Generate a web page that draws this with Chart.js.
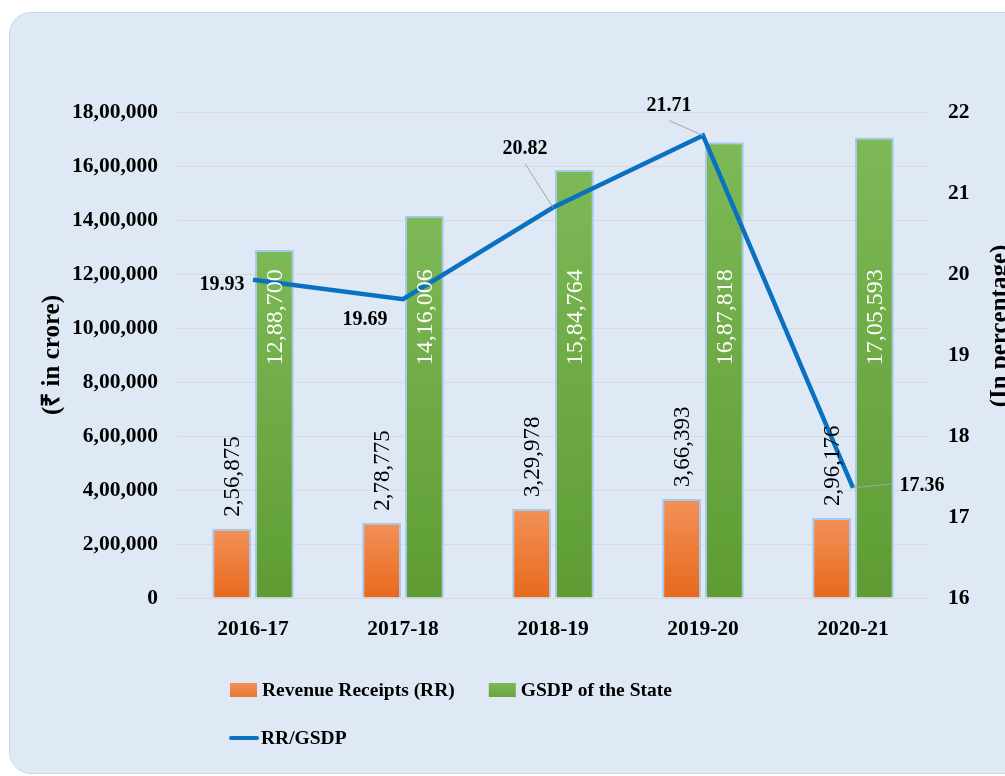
<!DOCTYPE html>
<html>
<head>
<meta charset="utf-8">
<script src="https://cdn.jsdelivr.net/npm/chart.js@4.4.1/dist/chart.umd.min.js"></script>
<style>
  html, body { margin: 0; padding: 0; background: #ffffff; }
  #wrap { position: relative; width: 1005px; height: 776px; overflow: hidden; }
  #panel { position: absolute; left: 9px; top: 12px; width: 1030px; height: 760px;
           border-radius: 22px; background: #dee9f5; border: 1px solid #c6d7ee; }
  canvas { position: absolute; left: 0; top: 0; }
</style>
</head>
<body>
<div id="wrap">
  <div id="panel"></div>
  <canvas id="c" width="1005" height="776"></canvas>
</div>
<script>
// ---- data ----
const categories = ['2016-17', '2017-18', '2018-19', '2019-20', '2020-21'];
const revenueReceipts = [256875, 278775, 329978, 366393, 296176];
const gsdp = [1288700, 1416006, 1584764, 1687818, 1705593];
const rrToGsdp = [19.93, 19.69, 20.82, 21.71, 17.36];
const seriesNames = ['Revenue Receipts (RR)', 'GSDP of the State', 'RR/GSDP'];
const leftAxisTitle = '(₹ in crore)';
const rightAxisTitle = '(In percentage)';

// ---- helpers ----
const SERIF = "'Liberation Serif', 'Times New Roman', serif";
function inr(n) {
  const s = Math.round(n).toString();
  if (s.length <= 3) return s;
  const last3 = s.slice(-3);
  const rest = s.slice(0, -3).replace(/\B(?=(\d{2})+(?!\d))/g, ',');
  return rest + ',' + last3;
}
function barGradient(top, bottom) {
  return function (ctx) {
    const chart = ctx.chart;
    const area = chart.chartArea;
    if (!area || ctx.type !== 'data') return top;
    const ys = chart.scales.y;
    const y0 = ys.getPixelForValue(ctx.raw);
    const y1 = ys.getPixelForValue(0);
    const g = chart.ctx.createLinearGradient(0, y0, 0, y1);
    g.addColorStop(0, top);
    g.addColorStop(1, bottom);
    return g;
  };
}

// label offsets for the ratio line labels (dx, dy from point, and whether leader line)
const lineLabelOffsets = [
  { dx: -31, dy: 5, leader: false },
  { dx: -38, dy: 21, leader: false },
  { dx: -28, dy: -59, leader: true },
  { dx: -34, dy: -30, leader: true },
  { dx: 69, dy: -2, leader: true }
];

const labelPlugin = {
  id: 'valueLabels',
  afterDatasetsDraw(chart) {
    const ctx = chart.ctx;
    const ys = chart.scales.y;
    ctx.save();
    // orange bar labels (above bar, rotated)
    const m0 = chart.getDatasetMeta(0);
    ctx.font = '23px ' + SERIF;
    ctx.fillStyle = '#000000';
    m0.data.forEach((bar, i) => {
      ctx.save();
      ctx.translate(bar.x, bar.y - 12);
      ctx.rotate(-Math.PI / 2);
      ctx.textAlign = 'left';
      ctx.textBaseline = 'middle';
      ctx.fillText(inr(revenueReceipts[i]), 0, 1);
      ctx.restore();
    });
    // green bar labels (inside bar, rotated, white)
    const m1 = chart.getDatasetMeta(1);
    ctx.font = '24px ' + SERIF;
    ctx.fillStyle = '#ffffff';
    m1.data.forEach((bar, i) => {
      ctx.save();
      ctx.translate(bar.x, ys.getPixelForValue(1040000));
      ctx.rotate(-Math.PI / 2);
      ctx.textAlign = 'center';
      ctx.textBaseline = 'middle';
      ctx.fillText(inr(gsdp[i]), 0, 1);
      ctx.restore();
    });
    // line labels
    const m2 = chart.getDatasetMeta(2);
    ctx.font = 'bold 20px ' + SERIF;
    m2.data.forEach((pt, i) => {
      const o = lineLabelOffsets[i];
      const lx = pt.x + o.dx, ly = pt.y + o.dy;
      if (o.leader) {
        ctx.strokeStyle = '#a6a6a6';
        ctx.lineWidth = 1;
        ctx.beginPath();
        let ex, ey;
        if (o.dx > 0) { ex = lx - 30; ey = ly - 2; }
        else { ex = lx; ey = ly + 15; }
        ctx.moveTo(ex, ey);
        ctx.lineTo(pt.x, pt.y);
        ctx.stroke();
      }
      ctx.fillStyle = '#000000';
      ctx.textAlign = 'center';
      ctx.textBaseline = 'middle';
      ctx.fillText(rrToGsdp[i].toFixed(2), lx, ly);
    });
    ctx.restore();
  },
  afterDraw(chart) {
    const ctx = chart.ctx;
    const area = chart.chartArea;
    ctx.save();
    // right axis title rotated -90 (reads bottom to top)
    ctx.font = 'bold 25px ' + SERIF;
    ctx.fillStyle = '#000000';
    ctx.translate(chart.width - 4, (area.top + area.bottom) / 2 - 29);
    ctx.rotate(-Math.PI / 2);
    ctx.textAlign = 'center';
    ctx.textBaseline = 'middle';
    ctx.fillText(rightAxisTitle, 0, 0);
    ctx.restore();

    // legend
    ctx.save();
    ctx.font = 'bold 19.5px ' + SERIF;
    ctx.textBaseline = 'middle';
    ctx.textAlign = 'left';
    const ds = chart.data.datasets;
    const x0 = area.left + 52;
    const row1 = area.bottom + 92, row2 = area.bottom + 140;
    let x = x0;
    [0, 1].forEach(i => {
      const g = ctx.createLinearGradient(0, row1 - 7, 0, row1 + 7);
      g.addColorStop(0, ds[i].legendTop);
      g.addColorStop(1, ds[i].legendBottom);
      ctx.fillStyle = g;
      ctx.fillRect(x, row1 - 7, 27, 14);
      ctx.fillStyle = '#000000';
      ctx.fillText(ds[i].label, x + 32, row1 + 1);
      x += 32 + ctx.measureText(ds[i].label).width + 34;
    });
    ctx.strokeStyle = ds[2].borderColor;
    ctx.lineWidth = 4;
    ctx.lineCap = 'round';
    ctx.beginPath();
    ctx.moveTo(x0 + 1, row2);
    ctx.lineTo(x0 + 27, row2);
    ctx.stroke();
    ctx.fillStyle = '#000000';
    ctx.fillText(ds[2].label, x0 + 31, row2 + 1);
    ctx.restore();
  }
};

const tickFont = { family: SERIF, size: 21.5, weight: 'bold' };

new Chart(document.getElementById('c'), {
  type: 'bar',
  data: {
    labels: categories,
    datasets: [
      {
        label: seriesNames[0],
        data: revenueReceipts,
        backgroundColor: barGradient('#f39158', '#e7691d'),
        legendTop: '#f39158', legendBottom: '#ea7630',
        borderColor: '#a8c8ee',
        borderWidth: 2,
        categoryPercentage: 0.57,
        barPercentage: 0.91,
        yAxisID: 'y',
        order: 1
      },
      {
        label: seriesNames[1],
        data: gsdp,
        backgroundColor: barGradient('#7db957', '#5e9c33'),
        legendTop: '#7db957', legendBottom: '#68a63d',
        borderColor: '#a8c8ee',
        borderWidth: 2,
        categoryPercentage: 0.57,
        barPercentage: 0.91,
        yAxisID: 'y',
        order: 1
      },
      {
        type: 'line',
        label: seriesNames[2],
        data: rrToGsdp,
        borderColor: '#0a70c0',
        borderWidth: 4.5,
        pointRadius: 0,
        tension: 0,
        yAxisID: 'y1',
        order: 0
      }
    ]
  },
  options: {
    responsive: false,
    animation: false,
    devicePixelRatio: 1,
    layout: { padding: { top: 112, right: 0, bottom: 0, left: 0 } },
    plugins: {
      legend: { display: false },
      tooltip: { enabled: false },
      title: { display: false }
    },
    scales: {
      x: {
        grid: { display: false, drawTicks: false },
        border: { display: false },
        ticks: { font: tickFont, color: '#000000', padding: 19 },
        afterFit(s) { s.height = 178; }
      },
      y: {
        position: 'left',
        min: 0, max: 1800000,
        grid: { color: '#d9d9dd', lineWidth: 1, drawTicks: false },
        border: { display: false },
        ticks: { stepSize: 200000, font: tickFont, color: '#000000', padding: 20,
                 callback: v => inr(v) },
        title: { display: true, text: leftAxisTitle, font: { family: SERIF, size: 25, weight: 'bold' },
                 color: '#000000', padding: { top: 38, bottom: 0 } },
        afterFit(s) { s.width = 178; }
      },
      y1: {
        position: 'right',
        min: 16, max: 22,
        grid: { display: false, drawTicks: false },
        border: { display: false },
        ticks: { stepSize: 1, font: tickFont, color: '#000000', padding: 20 },
        afterFit(s) { s.width = 77; }
      }
    }
  },
  plugins: [labelPlugin]
});
</script>
</body>
</html>
